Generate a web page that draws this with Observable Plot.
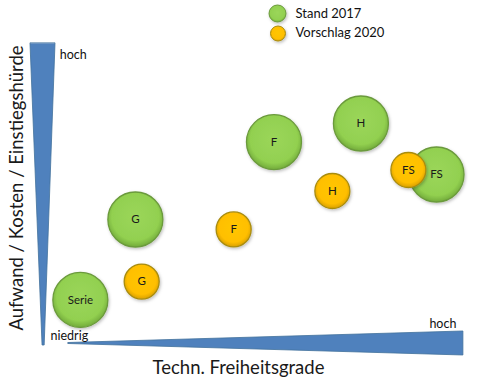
<!DOCTYPE html>
<html>
<head>
<meta charset="utf-8">
<script src="https://cdn.jsdelivr.net/npm/d3@7"></script>
<script src="https://cdn.jsdelivr.net/npm/@observablehq/plot@0.6"></script>
<style>
  html, body { margin: 0; padding: 0; background: #fff; }
  #chart { width: 480px; height: 383px; }
</style>
</head>
<body>
<div id="chart"></div>
<script>
// ---- data ----
const series = ["Stand 2017", "Vorschlag 2020"];

const labels2017 = ["Serie", "G", "F", "H", "FS"];
const x2017 = [8.3, 21.4, 54.4, 75.1, 93.1];
const y2017 = [15.2, 42.0, 67.8, 74.0, 57.0];

const labels2020 = ["G", "F", "H", "FS"];
const x2020 = [22.9, 44.8, 68.3, 86.4];
const y2020 = [21.3, 38.7, 51.5, 58.5];

const xTitle = "Techn. Freiheitsgrade";
const yTitle = "Aufwand / Kosten / Einstiegshürde";

const noteText = ["hoch", "niedrig", "hoch"];
const noteX = [3.4, 1.2, 91.4];
const noteY = [96.7, 3.3, 7.3];

// axis wedges (data units)
const yWedgeY = [100.6, 0];
const yWedgeX1 = [-3.57, -0.7];
const yWedgeX2 = [2.38, -0.2];

const xWedgeX = [5.5, 99.5];
const xWedgeY1 = [0.5, -3.33];
const xWedgeY2 = [0.83, 4.67];

// ---- tables ----
const stand = labels2017.map((l, i) => ({label: l, x: x2017[i], y: y2017[i]}));
const vorschlag = labels2020.map((l, i) => ({label: l, x: x2020[i], y: y2020[i]}));
const notes = noteText.map((t, i) => ({text: t, x: noteX[i], y: noteY[i]}));
const yWedge = yWedgeY.map((y, i) => ({y, x1: yWedgeX1[i], x2: yWedgeX2[i]}));
const xWedge = xWedgeX.map((x, i) => ({x, y1: xWedgeY1[i], y2: xWedgeY2[i]}));

const green = "url(#gradGreen)";
const yellow = "url(#gradYellow)";
const font = "Lato, 'Open Sans', sans-serif";

const plot = Plot.plot({
  width: 480,
  height: 383,
  margin: 0,
  x: {domain: [0, 100], range: [45, 465], axis: null},
  y: {domain: [0, 100], range: [345, 45], axis: null},
  style: {fontFamily: font, background: "white", color: "#111"},
  marks: [
    Plot.areaX(yWedge, {y: "y", x1: "x1", x2: "x2", fill: "#4f81bd", stroke: "#41719c", strokeWidth: 0.8}),
    Plot.areaY(xWedge, {x: "x", y1: "y1", y2: "y2", fill: "#4f81bd", stroke: "#41719c", strokeWidth: 0.8}),
    Plot.text(notes, {x: "x", y: "y", text: "text", textAnchor: "start", fontSize: 12.5, fill: "#111"}),

    Plot.dot(stand, {x: "x", y: "y", r: 27.5, fill: green, stroke: "#6b9a3c", strokeWidth: 1.3}),
    Plot.text(stand, {x: "x", y: "y", text: "label", fontSize: 11.5, fill: "#1a1a1a"}),
    Plot.dot(vorschlag, {x: "x", y: "y", r: 17.5, fill: yellow, stroke: "#a88c10", strokeWidth: 1.3}),
    Plot.text(vorschlag, {x: "x", y: "y", text: "label", fontSize: 11.5, fill: "#1a1a1a"}),

    // legend
    Plot.dot([series[0]], {frameAnchor: "top-left", dx: 277, dy: 13, r: 8.5, fill: green, stroke: "#6b9a3c", strokeWidth: 1}),
    Plot.dot([series[1]], {frameAnchor: "top-left", dx: 277.5, dy: 33, r: 7.5, fill: yellow, stroke: "#a88c10", strokeWidth: 1}),
    Plot.text([series[0]], {frameAnchor: "top-left", dx: 295, dy: 13, text: d => d, textAnchor: "start", lineAnchor: "middle", fontSize: 13, fill: "#111"}),
    Plot.text([series[1]], {frameAnchor: "top-left", dx: 295, dy: 32.5, text: d => d, textAnchor: "start", lineAnchor: "middle", fontSize: 13, fill: "#111"}),

    // axis titles
    Plot.text([xTitle], {frameAnchor: "bottom", dx: -2, dy: -15, text: d => d, textAnchor: "middle", lineAnchor: "middle", fontSize: 18.5, fill: "#1a1a1a"}),
    Plot.text([yTitle], {frameAnchor: "left", dx: 17, dy: -4, rotate: -90, text: d => d, textAnchor: "middle", lineAnchor: "middle", fontSize: 18.5, fill: "#1a1a1a"})
  ]
});

const svg = d3.select(plot);
const defs = svg.insert("defs", ":first-child");
const gG = defs.append("radialGradient").attr("id", "gradGreen").attr("cx", "50%").attr("cy", "45%").attr("r", "55%");
gG.append("stop").attr("offset", "0%").attr("stop-color", "#9bd65a");
gG.append("stop").attr("offset", "78%").attr("stop-color", "#92d050");
gG.append("stop").attr("offset", "100%").attr("stop-color", "#72ab3a");
const gY = defs.append("radialGradient").attr("id", "gradYellow").attr("cx", "50%").attr("cy", "45%").attr("r", "55%");
gY.append("stop").attr("offset", "0%").attr("stop-color", "#ffc600");
gY.append("stop").attr("offset", "75%").attr("stop-color", "#ffbf00");
gY.append("stop").attr("offset", "100%").attr("stop-color", "#d9a000");
const f = defs.append("filter").attr("id", "shadow").attr("x", "-30%").attr("y", "-30%").attr("width", "160%").attr("height", "160%");
f.append("feDropShadow").attr("dx", 1).attr("dy", 1.5).attr("stdDeviation", 1.5).attr("flood-color", "#000").attr("flood-opacity", 0.25);
svg.selectAll("circle").attr("filter", "url(#shadow)");

document.getElementById("chart").appendChild(plot);
</script>
</body>
</html>
